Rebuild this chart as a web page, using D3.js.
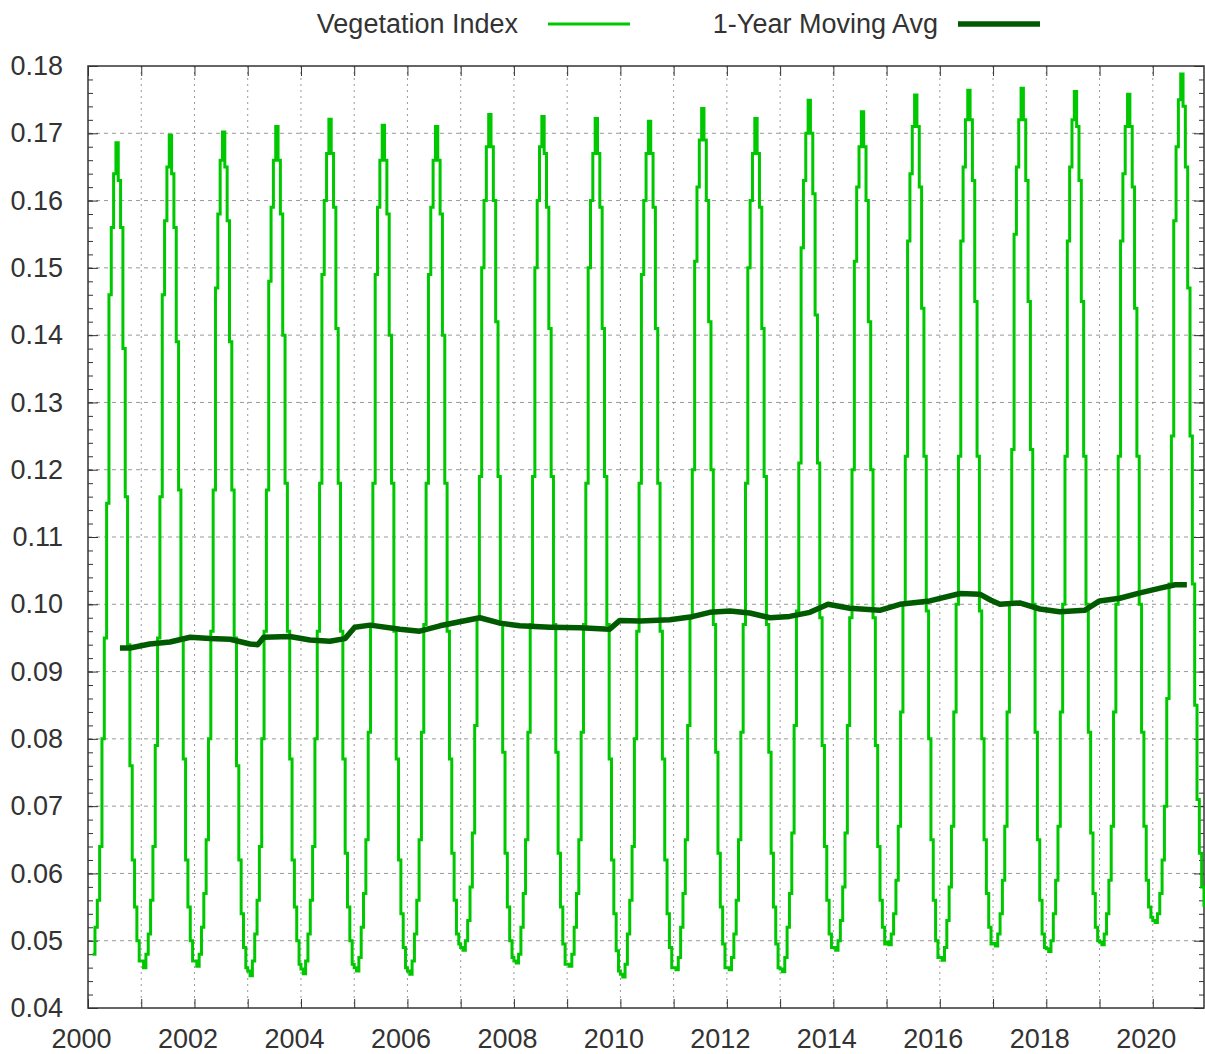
<!DOCTYPE html>
<meta charset="utf-8">
<style>
body { margin: 0; background: #fff; }
text { font-family: "Liberation Sans", Arial, sans-serif; fill: #333; }
.grid line { stroke: #999; stroke-width: 1; }
.axis path, .axis line { stroke: #333; }
</style>
<svg width="1205" height="1054"></svg>
<script src="https://cdn.jsdelivr.net/npm/d3@7"></script>
<script>

// 16-day composite start days (day of year)
var compositeDays = [1,17,33,49,65,81,97,113,129,145,161,177,193,209,225,241,257,273,289,305,321,337,353];

var vegYears = [2000,2001,2002,2003,2004,2005,2006,2007,2008,2009,2010,
                2011,2012,2013,2014,2015,2016,2017,2018,2019,2020];

// vegetation index x1000, one row per year (2000 starts at day 33)
var vegIndex = [
  [48,52,56,64,80,95,115,146,156,164,168.6,163,156,138,116,94,76,62,55,50,47],
  [47,46,48,51,56,64,79,95,116,146,157,165,169.7,164,156,139,117,95,77,62,55,50,47],
  [47,46.2,48,52,57,65,80,96,117,147,158,166,170.2,165,157,139,117,95,76,62,54,49,46],
  [45.5,44.8,47,51,56,64,80,96,117,148,159,166,171,166,158,140,118,96,77,62,55,50,46.5],
  [45.8,45.1,47,51,56,64,80,96,118,149,160,167,172.1,167,159,141,118,96,77,63,55,50,46.5],
  [46,45.5,47.5,52,57,65,81,97,118,149,159,166,171.2,166,158,140,118,96,77,62,54,49,46],
  [45.5,45,47,51,56,65,81,97,118,149,159,166,171,166,158,140,118,96,77,63,56,51,49.5],
  [49,48.6,50,53,58,66,82,98,119,150,160,168,172.8,168,160,142,119,97,78,63,55,50,47.5],
  [47,46.7,48,52,57,65,81,97,119,150,160,168,172.5,167,159,141,119,97,78,63,55,49.5,46.5],
  [46.5,46.2,48,52,57,65,81,97,118,150,160,167,172.2,167,159,141,119,97,77,62,54,48.5,45.5],
  [45,44.6,46.5,51,56,64,80,96,118,149,160,167,171.8,167,159,141,118,96,77,62,54,49,46],
  [46,45.7,47.5,52,57,65,82,98,120,151,162,169,173.7,169,160,142,120,97,78,63,55,49.5,46],
  [46,45.7,47.5,51,56,65,81,97,118,150,160,167,172.2,167,159,141,119,97,78,63,55,49.5,46],
  [45.8,45.4,47.5,52,57,66,82,99,121,153,163,170,174.9,170,161,143,121,98,79,64,56,51,49],
  [49,48.6,50,53,58,66,82,98,120,151,162,168,173.2,168,160,142,120,98,79,64,56,52,49.5],
  [49.8,49.4,51,54,59,67,84,100,122,154,164,171,175.7,171,162,144,122,99,80,65,56,50,47.5],
  [47.5,47.1,49,53,58,67,84,100,122,154,165,172,176.4,172,163,145,122,99,80,65,57,52,49.5],
  [49.6,49.2,51,54,59,67,84,100,123,155,165,172,176.7,172,163,145,123,100,81,65,56,51,49],
  [48.8,48.4,50,54,59,67,84,100,122,154,165,172,176.2,171,163,145,122,100,81,66,57,52,50],
  [49.8,49.4,51,54,59,67,84,100,122,154,164,171,175.8,171,162,144,122,100,81,67,59,55,53.5],
  [53,52.7,54,57,62,70,86,103,125,157,168,175,178.8,174,165,147,125,103,85,71,63,58,55]
];

var maYears = [2000.60,2000.79,2001.16,2001.54,2001.92,2002.29,2002.67,2003.04,2003.19,2003.30,
               2003.79,2004.17,2004.54,2004.83,2005.01,2005.30,2005.86,2006.23,2006.61,2006.98,
               2007.36,2007.74,2008.11,2008.68,2009.24,2009.80,2009.99,2010.37,2010.93,2011.31,
               2011.68,2012.06,2012.43,2012.81,2013.18,2013.56,2013.90,2014.31,2014.87,2015.25,
               2015.81,2016.38,2016.75,2016.96,2017.13,2017.50,2017.88,2018.25,2018.72,2019.00,
               2019.38,2019.76,2020.14,2020.42,2020.64];
var maValues = [0.0935,0.0935,0.0941,0.0944,0.0951,0.0949,0.0948,0.0941,0.0940,0.0951,
                0.0952,0.0947,0.0945,0.0949,0.0966,0.0969,0.0963,0.0960,0.0968,0.0974,
                0.0980,0.0972,0.0968,0.0966,0.0965,0.0963,0.0976,0.0975,0.0977,0.0981,
                0.0988,0.0990,0.0987,0.0980,0.0982,0.0988,0.1000,0.0994,0.0991,0.1000,
                0.1005,0.1016,0.1015,0.1006,0.1000,0.1002,0.0993,0.0989,0.0991,0.1005,
                0.1009,0.1017,0.1024,0.1029,0.1029];

var yTicks = [0.04,0.05,0.06,0.07,0.08,0.09,0.10,0.11,0.12,0.13,0.14,0.15,0.16,0.17,0.18];
var xTicks = d3.range(2000, 2021);

var svg = d3.select("svg"),
    plotL = 88, plotR = 1204, plotT = 66, plotB = 1008,
    fontSize = 27;

var x = d3.scaleLinear().domain([2000, 2020.962]).range([plotL, plotR]);
var y = d3.scaleLinear().domain([0.04, 0.18]).range([plotB, plotT]);

function isLeap(yr) { return (yr % 4 === 0 && yr % 100 !== 0) || yr % 400 === 0; }

var veg = [];
vegIndex.forEach(function(row, i) {
  var yr = vegYears[i],
      days = compositeDays.slice(compositeDays.length - row.length);
  row.forEach(function(v, j) {
    veg.push({t: yr + (days[j] - 1) / (isLeap(yr) ? 366 : 365), v: v / 1000});
  });
});

var ma = maYears.map(function(t, i) { return {t: t, v: maValues[i]}; });

// grid
var grid = svg.append("g").attr("class", "grid");
grid.selectAll(".h").data(yTicks.slice(1, -1)).enter().append("line")
    .attr("x1", plotL).attr("x2", plotR)
    .attr("y1", d => y(d)).attr("y2", d => y(d))
    .attr("stroke-dasharray", "4,4");
grid.selectAll(".v").data(xTicks.slice(1)).enter().append("line")
    .attr("x1", d => x(d)).attr("x2", d => x(d))
    .attr("y1", plotT).attr("y2", plotB)
    .attr("stroke-dasharray", "2,4");

// axes (gnuplot style: ticks point inward, mirrored)
var yMinor = d3.range(0.04, 0.1801, 0.002);

svg.append("g").attr("class", "axis")
    .attr("transform", "translate(" + plotL + ",0)")
    .call(d3.axisLeft(y).tickValues(yMinor).tickSize(-5).tickFormat(""))
    .call(g => g.select(".domain").remove());
svg.append("g").attr("class", "axis")
    .attr("transform", "translate(" + plotR + ",0)")
    .call(d3.axisRight(y).tickValues(yMinor).tickSize(-5).tickFormat(""))
    .call(g => g.select(".domain").remove());

var yAxis = svg.append("g").attr("class", "axis")
    .attr("transform", "translate(" + plotL + ",0)")
    .call(d3.axisLeft(y).tickValues(yTicks).tickSize(-10)
      .tickFormat(d3.format(".2f")));
yAxis.select(".domain").remove();
yAxis.selectAll("text").attr("font-size", fontSize).attr("x", -25);

svg.append("g").attr("class", "axis")
    .attr("transform", "translate(" + plotR + ",0)")
    .call(d3.axisRight(y).tickValues(yTicks).tickSize(-10).tickFormat(""))
    .call(g => g.select(".domain").remove());

var xAxis = svg.append("g").attr("class", "axis")
    .attr("transform", "translate(0," + plotB + ")")
    .call(d3.axisBottom(x).tickValues(xTicks).tickSize(-9)
      .tickFormat(d => d % 2 === 0 ? d : ""));
xAxis.select(".domain").remove();
xAxis.selectAll("text").attr("font-size", fontSize).attr("dx", -7).attr("y", 21);

svg.append("g").attr("class", "axis")
    .attr("transform", "translate(0," + plotT + ")")
    .call(d3.axisTop(x).tickValues(xTicks).tickSize(-10).tickFormat(""))
    .call(g => g.select(".domain").remove());

svg.append("rect")
    .attr("x", plotL).attr("y", plotT)
    .attr("width", plotR - plotL).attr("height", plotB - plotT)
    .attr("fill", "none").attr("stroke", "#333").attr("stroke-width", 1.5);

// data lines
svg.append("path")
    .datum(veg)
    .attr("fill", "none")
    .attr("stroke", "#00c800")
    .attr("stroke-width", 3)
    .attr("d", d3.line().curve(d3.curveStepAfter)
      .x(d => x(d.t)).y(d => y(d.v)));

svg.append("path")
    .datum(ma)
    .attr("fill", "none")
    .attr("stroke", "#005a00")
    .attr("stroke-width", 5.5)
    .attr("stroke-linejoin", "round")
    .attr("d", d3.line().x(d => x(d.t)).y(d => y(d.v)));

// legend
var legend = [
  {label: "Vegetation Index", x: 518, x1: 548, x2: 630, color: "#00c800", w: 3},
  {label: "1-Year Moving Avg", x: 938, x1: 958, x2: 1040, color: "#005a00", w: 5.5}
];
var lg = svg.selectAll(".legend").data(legend).enter().append("g");
lg.append("text")
    .attr("x", d => d.x).attr("y", 33)
    .attr("text-anchor", "end")
    .attr("font-size", fontSize)
    .text(d => d.label);
lg.append("line")
    .attr("x1", d => d.x1).attr("x2", d => d.x2)
    .attr("y1", 24).attr("y2", 24)
    .attr("stroke", d => d.color)
    .attr("stroke-width", d => d.w);

</script>
